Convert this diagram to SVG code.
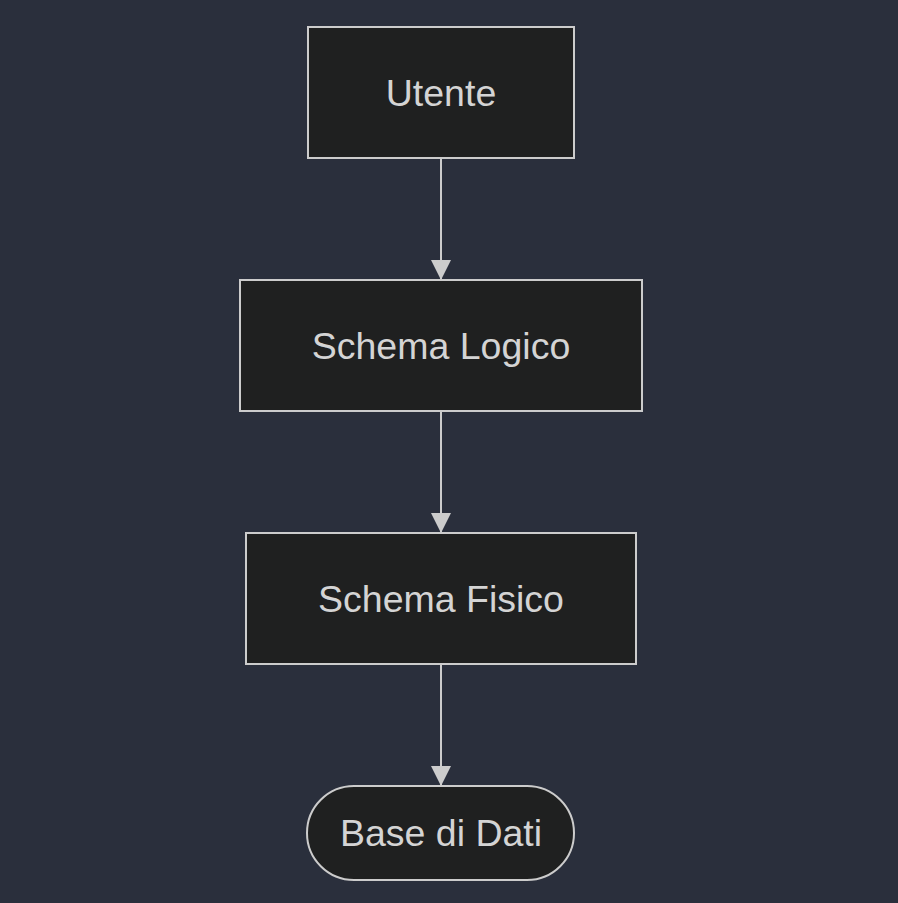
<svg xmlns="http://www.w3.org/2000/svg" width="898" height="903" viewBox="0 0 898 903">
<style>
.bg{fill:#2a2f3c}
.node{fill:#1f2020;stroke:#cccccc;stroke-width:2}
.lbl{font-family:"Liberation Sans",Arial,sans-serif;font-size:37.5px;fill:#d4d4d4;text-anchor:middle}
.edge{stroke:#cccccc;stroke-width:2;fill:none}
</style>
<defs>
<marker id="arr" viewBox="0 0 20 20" refX="20" refY="10" markerWidth="20" markerHeight="20" markerUnits="userSpaceOnUse" orient="auto">
<path d="M0,0 L20,10 L0,20 Z" fill="#cccccc"/>
</marker>
</defs>
<rect class="bg" width="898" height="903"/>
<g id="connectors">
<line class="edge" x1="441" y1="158" x2="441" y2="280" marker-end="url(#arr)"/>
<line class="edge" x1="441" y1="411" x2="441" y2="533" marker-end="url(#arr)"/>
<line class="edge" x1="441" y1="664" x2="441" y2="786" marker-end="url(#arr)"/>
</g>
<g id="utente">
<rect class="node" x="308" y="27" width="266" height="131"/>
<text class="lbl" x="441" y="106">Utente</text>
</g>
<g id="schema-logico">
<rect class="node" x="240" y="280" width="402" height="131"/>
<text class="lbl" x="441" y="359">Schema Logico</text>
</g>
<g id="schema-fisico">
<rect class="node" x="246" y="533" width="390" height="131"/>
<text class="lbl" x="441" y="612">Schema Fisico</text>
</g>
<g id="base-dati">
<rect class="node" x="307" y="786" width="267" height="94" rx="47" ry="47"/>
<text class="lbl" x="441" y="846">Base di Dati</text>
</g>
</svg>
